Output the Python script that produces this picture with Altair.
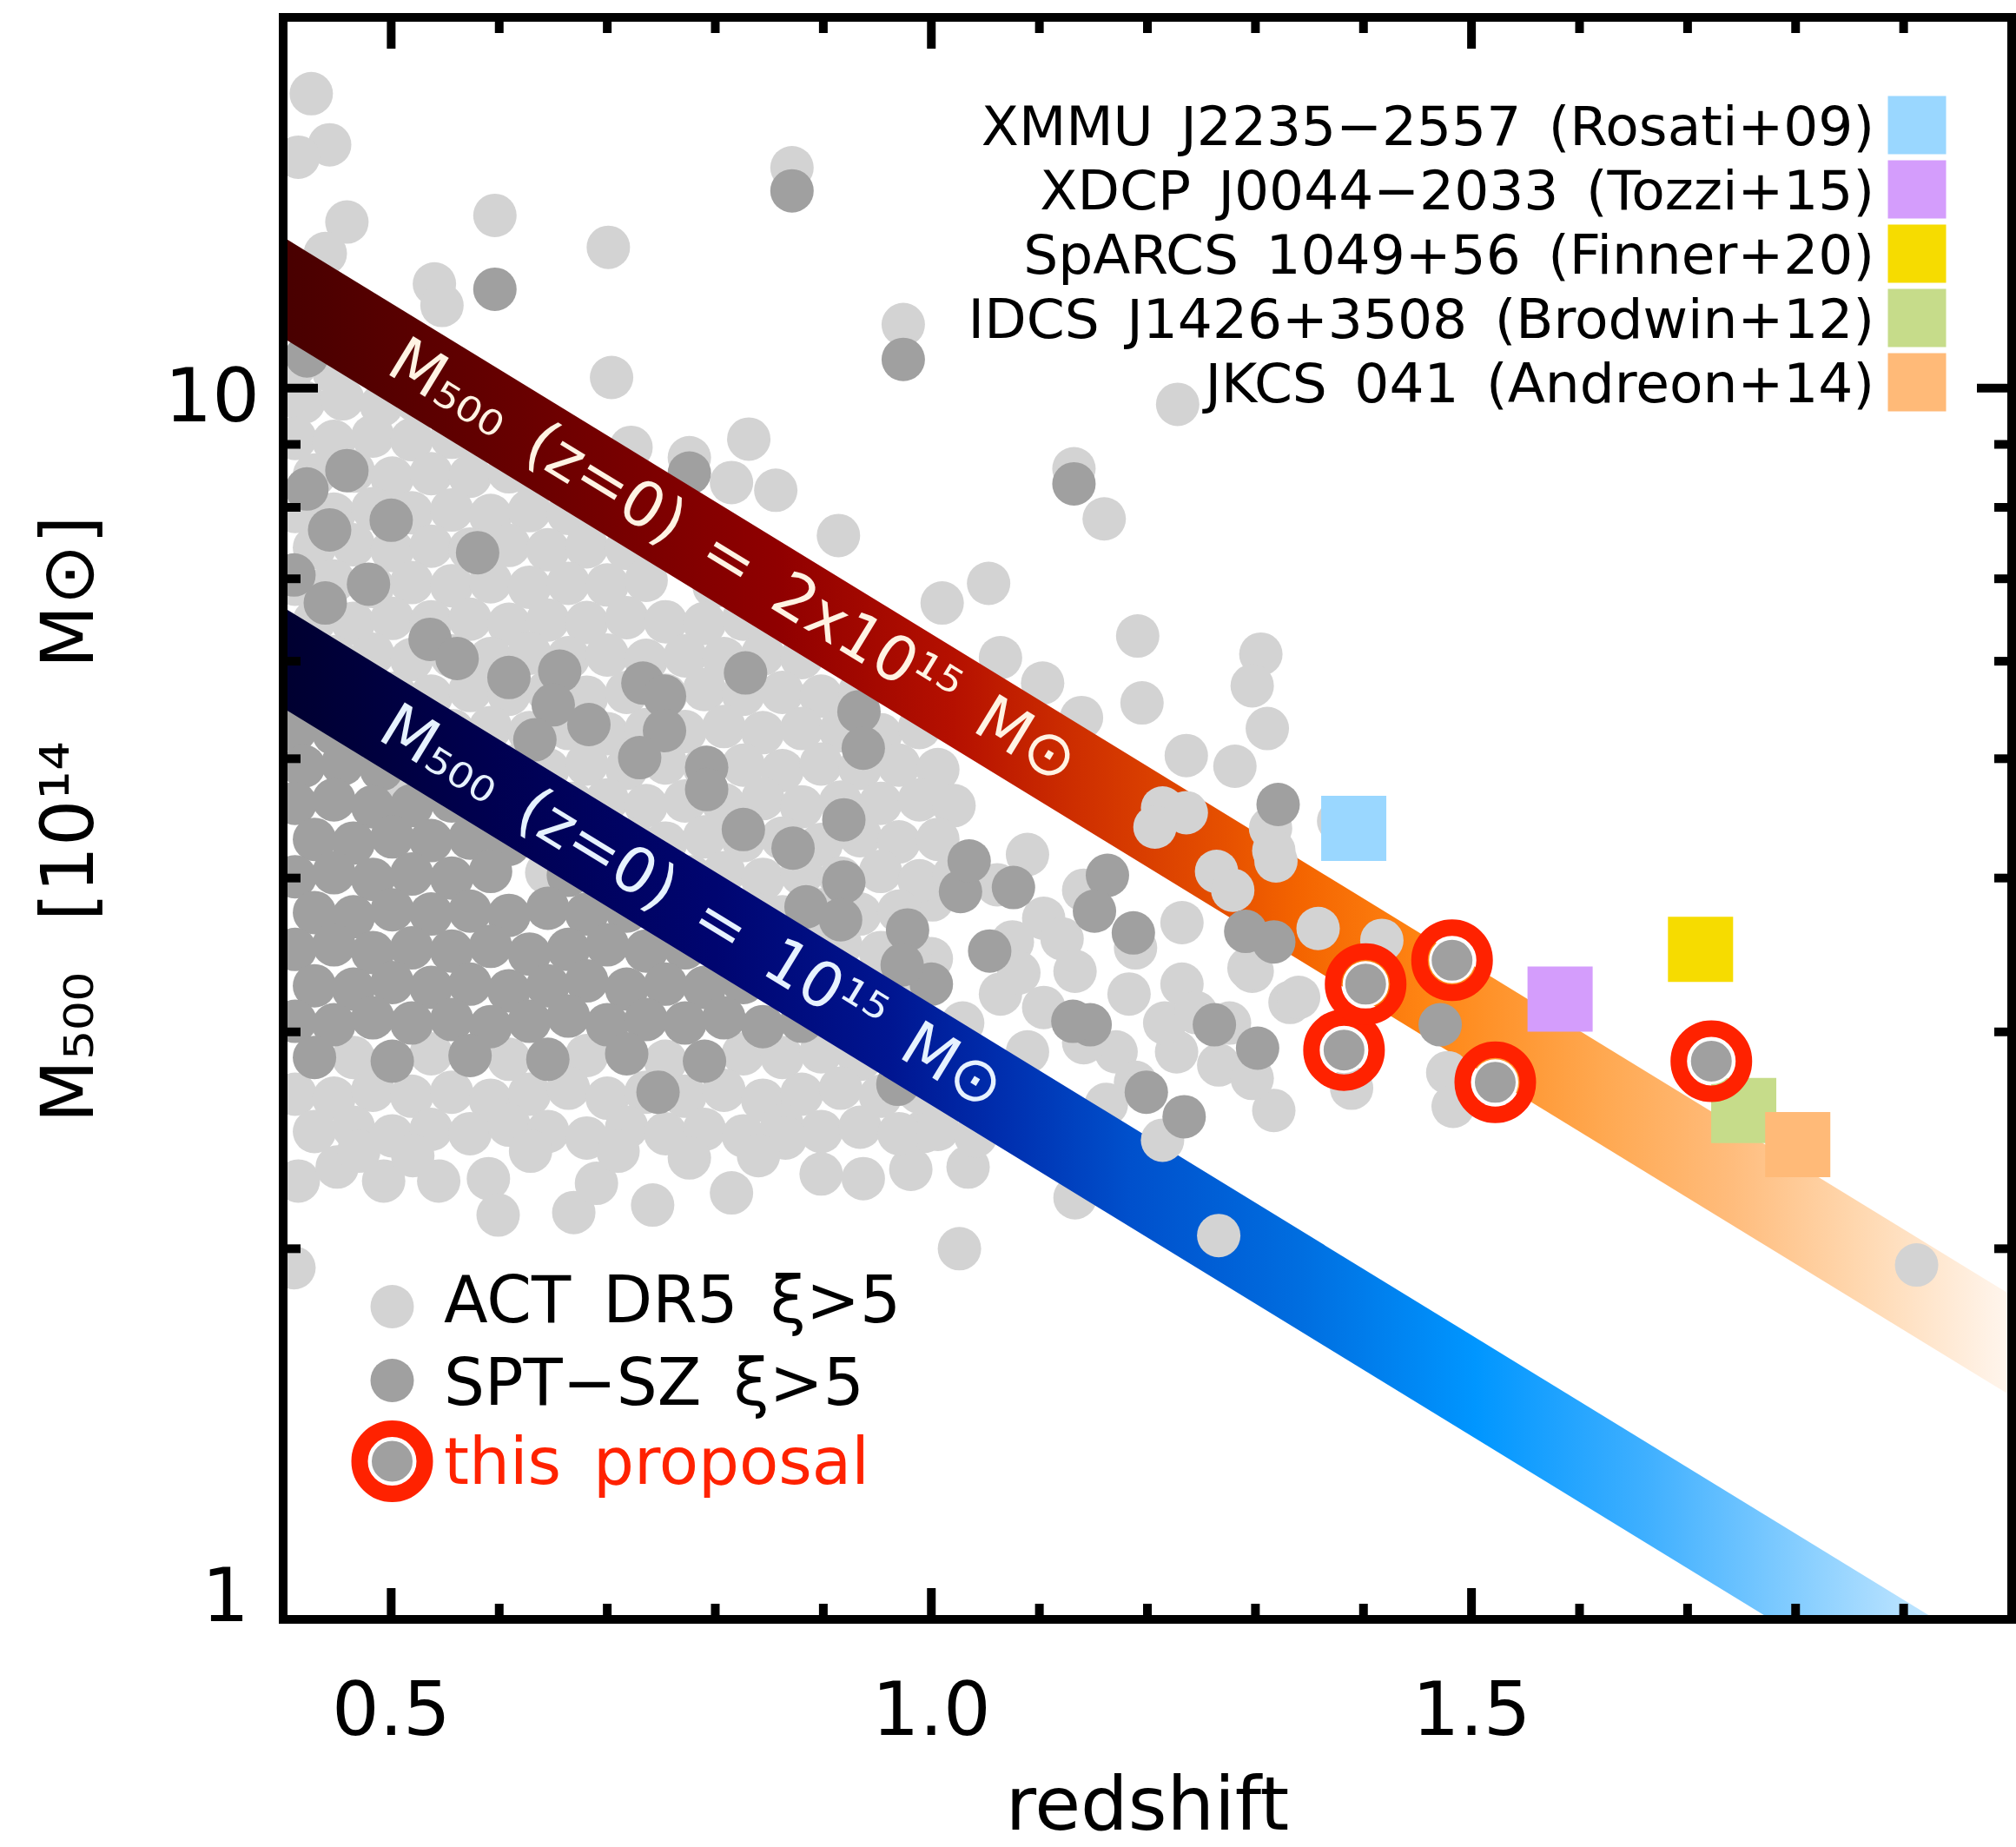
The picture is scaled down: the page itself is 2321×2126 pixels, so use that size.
import altair as alt
import pandas as pd

FONT = "DejaVu Sans"
LIGHT = "#d3d3d3"
DARK = "#a0a0a0"
RED = "#ff2200"

# ---------------- ACT DR5 (xi > 5): redshift, M500 [1e14 Msun] ----------------
act_z = [
    # high-mass tail
    0.426, 0.443, 0.414, 0.459, 0.439, 0.596, 0.701, 0.540, 0.547, 0.871,
    0.704, 0.831, 0.722, 0.776, 0.815, 0.856, 0.914, 0.974, 1.228, 1.132,
    1.160, 1.053, 1.010, 1.191, 1.305, 1.297, 1.195, 1.311, 1.236, 1.281,
    1.064, 1.103, 1.139,
    # high-redshift systems
    1.214, 1.236, 1.207, 1.314, 1.377, 1.264, 1.279, 1.319, 1.358, 1.417,
    1.317, 1.332, 1.297, 1.478, 1.483, 1.317, 1.389, 1.266, 1.912, 1.214,
    1.232, 1.294, 1.340, 1.232, 1.183, 1.266, 1.227, 1.189, 1.216, 1.245,
    1.276, 1.297, 1.189,
    # z ~ 1.0 - 1.2
    1.133, 1.026, 1.171, 1.162, 0.993, 1.034, 0.981, 1.005, 1.104, 1.141,
    1.075, 1.104, 1.064, 1.001, 1.061, 1.121, 1.081, 1.133, 1.029, 1.089,
    1.141, 1.000, 1.089,
    # bulk of the sample
    0.411, 0.447,
    0.419, 0.455, 0.491, 0.523,
    0.411, 0.447, 0.483, 0.519, 0.556, 0.580,
    0.429, 0.465, 0.501, 0.537, 0.573, 0.609, 0.633,
    0.411, 0.447, 0.483, 0.519, 0.556, 0.592, 0.628, 0.664, 0.689,
    0.429, 0.465, 0.501, 0.537, 0.573, 0.609, 0.645, 0.681, 0.718, 0.744,
    0.411, 0.447, 0.483, 0.519, 0.556, 0.592, 0.628, 0.664, 0.700, 0.736, 0.799,
    0.429, 0.465, 0.501, 0.537, 0.573, 0.609, 0.645, 0.681, 0.718, 0.754, 0.790, 0.826, 0.854,
    0.447, 0.483, 0.519, 0.556, 0.592, 0.628, 0.664, 0.700, 0.736, 0.772, 0.808, 0.844, 0.880,
    0.503, 0.537, 0.573, 0.609, 0.645, 0.681, 0.718, 0.754, 0.790, 0.826, 0.862, 0.898, 0.934,
    0.557, 0.592, 0.628, 0.664, 0.700, 0.736, 0.772, 0.808, 0.844, 0.880, 0.916, 0.953, 0.989,
    0.613, 0.645, 0.681, 0.718, 0.754, 0.790, 0.826, 0.862, 0.898, 0.934, 0.970, 1.006,
    0.668, 0.700, 0.736, 0.772, 0.808, 0.844, 0.880, 0.916, 0.953, 0.989, 1.021,
    0.723, 0.754, 0.790, 0.826, 0.862, 0.898, 0.934, 0.970, 1.006,
    0.778, 0.808, 0.844, 0.880, 0.916, 0.953, 0.989, 1.021,
    0.833, 0.862, 0.898, 0.934, 0.970,
    0.888, 0.916, 0.953, 0.981,
    0.944, 0.973,
    0.507, 0.644,
    # low-mass end
    0.465, 0.537, 0.609, 0.681, 0.754, 0.826, 0.862, 0.898, 0.934,
    0.411, 0.447, 0.483, 0.519, 0.556, 0.592, 0.628, 0.664, 0.700, 0.736, 0.772, 0.808, 0.844, 0.880, 0.916, 0.953, 0.989,
    0.429, 0.465, 0.501, 0.537, 0.573, 0.609, 0.645, 0.681, 0.718, 0.754, 0.790, 0.826, 0.862, 0.898, 0.934, 0.970, 1.006, 1.041,
    0.414, 0.450, 0.493, 0.544, 0.590, 0.599, 0.669, 0.690, 0.742, 0.776,
    0.815, 0.865, 0.937, 0.410, 0.898, 0.629, 0.710, 0.840, 0.520, 0.470,
]
act_m = [
    17.34, 15.76, 15.40, 13.64, 12.86, 13.81, 13.01, 12.15, 11.67, 15.10,
    10.20, 9.09, 8.95, 8.78, 8.38, 8.26, 7.59, 11.26, 9.70, 8.60,
    7.83, 6.94, 6.69, 6.29, 6.08, 5.73, 5.55, 5.29, 5.03, 4.93,
    6.04, 5.76, 5.40,
    4.56, 4.52, 4.40, 4.39, 4.45, 4.05, 3.91, 4.13, 3.64, 3.56,
    4.21, 3.17, 3.36, 2.78, 2.61, 2.59, 2.70, 2.05, 1.94, 2.45,
    3.68, 3.38, 3.20, 3.28, 3.22, 2.82, 2.89, 3.51, 3.05, 3.11,
    3.05, 2.75, 2.73,
    2.20, 2.00, 2.89, 2.62, 2.49, 2.33, 2.32, 2.62, 3.71, 3.91,
    3.55, 3.14, 3.22, 3.84, 3.95, 3.57, 3.35, 3.36, 3.05, 2.89,
    2.94, 3.44, 4.18,
    10.43, 10.30,
    9.74, 9.80, 9.68, 9.76,
    9.10, 9.05, 9.14, 9.08, 9.12, 9.02,
    8.50, 8.56, 8.45, 8.52, 8.48, 8.55, 8.44,
    7.94, 7.90, 7.98, 7.92, 7.96, 7.88, 7.95, 7.91, 7.97,
    7.42, 7.46, 7.38, 7.44, 7.40, 7.45, 7.39, 7.43, 7.41, 7.47,
    6.93, 6.97, 6.90, 6.95, 6.91, 6.96, 6.89, 6.94, 6.92, 6.98, 6.90,
    6.47, 6.44, 6.50, 6.46, 6.49, 6.43, 6.48, 6.45, 6.51, 6.46, 6.44, 6.49, 6.47,
    6.05, 6.08, 6.02, 6.06, 6.03, 6.09, 6.04, 6.07, 6.01, 6.06, 6.03, 6.08, 6.04,
    5.65, 5.62, 5.68, 5.64, 5.67, 5.61, 5.66, 5.63, 5.69, 5.64, 5.66, 5.62, 5.67,
    5.27, 5.30, 5.25, 5.29, 5.24, 5.28, 5.26, 5.31, 5.25, 5.29, 5.27, 5.23, 5.30,
    4.93, 4.90, 4.95, 4.91, 4.96, 4.92, 4.94, 4.89, 4.95, 4.91, 4.94, 4.90,
    4.60, 4.63, 4.58, 4.62, 4.59, 4.64, 4.57, 4.61, 4.60, 4.63, 4.58,
    4.30, 4.27, 4.32, 4.29, 4.31, 4.26, 4.33, 4.28, 4.30,
    4.01, 4.04, 3.99, 4.03, 4.00, 4.05, 3.98, 4.02,
    3.75, 3.72, 3.77, 3.74, 3.76,
    3.50, 3.53, 3.48, 3.51,
    3.27, 3.25,
    4.81, 4.04,
    2.86, 2.88, 2.85, 2.87, 2.84, 2.88, 2.86, 2.89, 2.85,
    2.67, 2.65, 2.69, 2.66, 2.68, 2.64, 2.67, 2.70, 2.65, 2.68, 2.66, 2.69, 2.64, 2.67, 2.70, 2.66, 2.68,
    2.49, 2.51, 2.47, 2.50, 2.48, 2.52, 2.49, 2.46, 2.51, 2.48, 2.50, 2.47, 2.52, 2.49, 2.51, 2.48, 2.50, 2.47,
    2.27, 2.33, 2.27, 2.27, 2.28, 2.13, 2.14, 2.26, 2.17, 2.37,
    2.22, 2.46, 2.28, 1.93, 2.30, 2.40, 2.40, 2.38, 2.38, 2.40,
]

# ---------------- SPT-SZ (xi > 5) ----------------
spt_z = [
    0.596, 0.871, 0.974, 1.132, 0.776, 0.422,
    0.479, 0.439, 0.410, 0.536, 0.561, 0.609, 0.656, 0.650, 0.683, 0.633,
    0.733, 0.753, 0.753, 0.730, 0.828, 0.792, 0.792, 0.933, 0.937, 0.919,
    0.826, 0.872, 0.884, 0.919, 0.916, 0.580, 0.422, 0.459, 0.443, 0.500,
    0.978, 1.000, 1.027, 1.076, 1.035, 1.163, 1.151, 1.187, 1.054, 1.147,
    1.131, 1.199, 1.234, 1.262, 1.302, 1.291, 1.317, 1.321, 1.471, 0.969,
    0.973,
    0.411, 0.447,
    0.419, 0.455, 0.491,
    0.411, 0.447, 0.483, 0.519, 0.556,
    0.429, 0.465, 0.501, 0.537, 0.573, 0.609,
    0.411, 0.447, 0.483, 0.519, 0.556, 0.592, 0.664,
    0.429, 0.465, 0.501, 0.537, 0.573, 0.609, 0.645, 0.681, 0.718,
    0.411, 0.447, 0.483, 0.519, 0.556, 0.592, 0.628, 0.664, 0.700, 0.736, 0.772,
    0.429, 0.465, 0.501, 0.537, 0.573, 0.609, 0.645, 0.681, 0.718, 0.754, 0.790, 0.826,
    0.411, 0.447, 0.483, 0.519, 0.556, 0.592, 0.628, 0.664, 0.700, 0.736, 0.772, 0.808, 0.844, 0.880,
    0.429, 0.501, 0.573, 0.645, 0.718, 0.790,
    0.747,
]
spt_m = [
    12.03, 14.46, 10.55, 8.36, 8.53, 10.62,
    6.93, 6.69, 7.05, 6.25, 6.03, 5.82, 5.89, 5.53, 5.33, 5.18,
    5.76, 5.62, 5.27, 5.01, 5.87, 4.92, 4.72, 5.46, 5.10, 4.46,
    4.38, 4.23, 3.79, 3.97, 3.70, 7.35, 8.28, 8.57, 7.67, 7.81,
    3.63, 3.28, 3.90, 3.93, 4.13, 4.02, 3.76, 3.61, 3.49, 3.04,
    3.06, 2.68, 2.56, 3.04, 2.91, 3.62, 3.55, 4.59, 3.04, 2.72,
    3.40,
    5.27, 5.24,
    4.93, 4.95, 4.90,
    4.60, 4.63, 4.57, 4.58, 4.62,
    4.30, 4.27, 4.32, 4.29, 4.31, 4.26,
    4.01, 4.04, 3.99, 4.03, 4.00, 4.05, 4.02,
    3.75, 3.72, 3.77, 3.74, 3.76, 3.73, 3.78, 3.74, 3.76,
    3.50, 3.53, 3.48, 3.51, 3.49, 3.52, 3.47, 3.50, 3.53, 3.49, 3.51,
    3.27, 3.25, 3.29, 3.26, 3.28, 3.24, 3.27, 3.30, 3.25, 3.28, 3.26, 3.29,
    3.06, 3.04, 3.08, 3.05, 3.07, 3.03, 3.06, 3.09, 3.04, 3.07, 3.05, 3.08, 3.03, 3.06,
    2.86, 2.84, 2.87, 2.85, 2.88, 2.84,
    2.68,
]

# ---------------- proposed targets ----------------
prop_z = [1.382, 1.402, 1.482, 1.522, 1.722]
prop_m = [2.90, 3.28, 3.43, 2.73, 2.84]

# ---------------- well-studied high-z clusters ----------------
ref_z = [1.391, 1.582, 1.712, 1.752, 1.802]
ref_m = [4.39, 3.19, 3.50, 2.59, 2.43]
ref_colors = ["#9ad7ff", "#d49dfc", "#f6dc00", "#c6dc8a", "#ffba78"]
ref_labels = [
    "XMMU\u2002J2235\u22122557\u2002(Rosati+09)",
    "XDCP\u2002J0044\u22122033\u2002(Tozzi+15)",
    "SpARCS\u20021049+56\u2002(Finner+20)",
    "IDCS\u2002J1426+3508\u2002(Brodwin+12)",
    "JKCS\u2002041\u2002(Andreon+14)",
]

# ---------------- mass-growth tracks (end points) ----------------
track_z = [0.4, 2.0]
track_hi_m = [12.07, 1.668]   # M500(z=0) = 2e15 Msun
track_lo_m = [6.04, 0.834]    # M500(z=0) = 1e15 Msun
track_hi_label = "M\u2085\u2080\u2080\u2002(z=0)\u2002=\u20022x10\u00b9\u2075\u2002M\u2299"
track_lo_label = "M\u2085\u2080\u2080\u2002(z=0)\u2002=\u200210\u00b9\u2075\u2002M\u2299"

# ---------------- axes ----------------
x_major = [0.5, 1.0, 1.5]
x_major_labels = ["0.5", "1.0", "1.5"]
x_minor = [0.6, 0.7, 0.8, 0.9, 1.1, 1.2, 1.3, 1.4, 1.6, 1.7, 1.8, 1.9]
y_major = [1, 10]
y_minor = [2, 3, 4, 5, 6, 7, 8, 9]

W, H = 1990, 1844
Z_SPLIT = 1.18

xs = alt.Scale(domain=[0.4, 2.0], nice=False, zero=False)
ys = alt.Scale(type="log", domain=[1, 20], nice=False)
X = alt.X("z:Q", scale=xs, axis=None)
Y = alt.Y("m:Q", scale=ys, axis=None)

act_df = pd.DataFrame({"z": act_z, "m": act_m})
spt_df = pd.DataFrame({"z": spt_z, "m": spt_m})
prop_df = pd.DataFrame({"z": prop_z, "m": prop_m})
ref_df = pd.DataFrame({"z": ref_z, "m": ref_m, "c": ref_colors})
one = pd.DataFrame({"k": [0]})

# Vega symbol size is the area of the bounding square: diameter = sqrt(size)
DOT = 2500      # 50 px discs
RING = 5625     # 75 px ring (centre line)


def dots(df, color, cond):
    return (alt.Chart(df).transform_filter(cond)
            .mark_circle(size=DOT, color=color, opacity=1, clip=True)
            .encode(x=X, y=Y))


def track(m_vals, stops):
    grad = alt.LinearGradient(
        gradient="linear",
        stops=[alt.GradientStop(offset=o, color=c) for o, c in stops],
        x1=0, x2=1, y1=0, y2=0)
    return (alt.Chart(pd.DataFrame({"z": track_z, "m": m_vals}))
            .mark_line(strokeWidth=99, strokeCap="square", clip=True, color=grad)
            .encode(x=X, y=Y))


hi_stops = [(0.0, "#480000"), (0.1375, "#680000"), (0.2875, "#900000"),
            (0.3875, "#b51000"), (0.4625, "#cf3000"), (0.544, "#e65000"),
            (0.5875, "#f46400"), (0.6625, "#ff8614"), (0.7625, "#ffa850"),
            (0.8375, "#ffbc7c"), (0.9125, "#ffd8b0"), (0.9875, "#fff2e6"),
            (1.0, "#fff6ee")]
lo_stops = [(0.0, "#000030"), (0.12, "#000050"), (0.25, "#000570"),
            (0.35, "#001590"), (0.42, "#0030b0"), (0.49, "#0050cc"),
            (0.59, "#006ee0"), (0.69, "#0096ff"), (0.79, "#40b0ff"),
            (0.89, "#90d2ff"), (0.94, "#b8e2ff"), (1.0, "#d8f0ff")]


def track_text(z, m, label, color):
    return (alt.Chart(pd.DataFrame({"z": [z], "m": [m], "t": [label]}))
            .mark_text(font=FONT, fontSize=72, angle=31.4, align="center",
                       baseline="middle", color=color)
            .encode(x=X, y=Y, text="t:N"))


layers = [
    dots(act_df, LIGHT, "datum.z < %g" % Z_SPLIT),
    dots(spt_df, DARK, "datum.z < %g" % Z_SPLIT),
    track(track_hi_m, hi_stops),
    track(track_lo_m, lo_stops),
    track_text(0.816, 7.22, track_hi_label, "#fff3e3"),
    track_text(0.778, 3.78, track_lo_label, "#e6f2ff"),
    dots(act_df, LIGHT, "datum.z >= %g" % Z_SPLIT),
    dots(spt_df, DARK, "datum.z >= %g" % Z_SPLIT),
    alt.Chart(ref_df).mark_square(size=5625, opacity=1, clip=True)
    .encode(x=X, y=Y, color=alt.Color("c:N", scale=None)),
    alt.Chart(prop_df).mark_circle(size=DOT, color=DARK, opacity=1,
                                   stroke="white", strokeWidth=3)
    .encode(x=X, y=Y),
    alt.Chart(prop_df).mark_point(shape="circle", size=RING, filled=False,
                                  color=RED, strokeWidth=19, opacity=1)
    .encode(x=X, y=Y),
]

# ticks on all four sides, pointing inward
def xticks(vals, length):
    d = pd.DataFrame({"z": vals})
    return [alt.Chart(d).mark_rule(color="black", strokeWidth=10)
            .encode(x=X, y=alt.value(H), y2=alt.value(H - length)),
            alt.Chart(d).mark_rule(color="black", strokeWidth=10)
            .encode(x=X, y=alt.value(0), y2=alt.value(length))]


def yticks(vals, length):
    d = pd.DataFrame({"m": vals})
    return [alt.Chart(d).mark_rule(color="black", strokeWidth=10)
            .encode(y=Y, x=alt.value(0), x2=alt.value(length)),
            alt.Chart(d).mark_rule(color="black", strokeWidth=10)
            .encode(y=Y, x=alt.value(W), x2=alt.value(W - length))]


layers += xticks(x_major, 36) + xticks(x_minor, 18)
layers += yticks(y_major, 40) + yticks(y_minor, 20)

# frame
frame = alt.Chart(one).mark_rule(color="black", strokeWidth=10, strokeCap="square")
layers += [
    frame.encode(x=alt.value(0), x2=alt.value(W), y=alt.value(0)),
    frame.encode(x=alt.value(0), x2=alt.value(W), y=alt.value(H)),
    frame.encode(x=alt.value(0), y=alt.value(0), y2=alt.value(H)),
    frame.encode(x=alt.value(W), y=alt.value(0), y2=alt.value(H)),
]

# tick labels and titles
layers += [
    alt.Chart(pd.DataFrame({"z": x_major, "t": x_major_labels}))
    .mark_text(font=FONT, fontSize=86, align="center", baseline="alphabetic", color="black")
    .encode(x=X, y=alt.value(H + 133), text="t:N"),
    alt.Chart(pd.DataFrame({"m": [10], "t": ["10"]}))
    .mark_text(font=FONT, fontSize=86, align="right", baseline="middle", dy=12, color="black")
    .encode(y=Y, x=alt.value(-27), text="t:N"),
    alt.Chart(pd.DataFrame({"m": [1], "t": ["1"]}))
    .mark_text(font=FONT, fontSize=86, align="right", baseline="alphabetic", dy=2, color="black")
    .encode(y=Y, x=alt.value(-39), text="t:N"),
    alt.Chart(pd.DataFrame({"t": ["redshift"]}))
    .mark_text(font=FONT, fontSize=86, align="center", baseline="alphabetic", color="black")
    .encode(x=alt.value(W / 2), y=alt.value(2086), text="t:N"),
    alt.Chart(pd.DataFrame({"t": ["M\u2085\u2080\u2080\u2002\u2009[10\u00b9\u2074\u2003M\u2299]"]}))
    .mark_text(font=FONT, fontSize=84, align="center", baseline="alphabetic", angle=270, color="black")
    .encode(x=alt.value(-219), y=alt.value(923), text="t:N"),
]

# key for the reference clusters (upper right)
for i, (lab, col) in enumerate(zip(ref_labels, ref_colors)):
    yy = 124 + 74 * i
    layers.append(alt.Chart(pd.DataFrame({"t": [lab]}))
                  .mark_text(font=FONT, fontSize=63, align="right", baseline="middle",
                             dy=4, color="black")
                  .encode(x=alt.value(1832), y=alt.value(yy), text="t:N"))
    layers.append(alt.Chart(one).mark_square(size=4489, color=col, opacity=1)
                  .encode(x=alt.value(1881), y=alt.value(yy)))

# key for the survey samples (lower left)
KX, TX = 125.5, 185
layers += [
    alt.Chart(one).mark_circle(size=DOT, color=LIGHT, opacity=1)
    .encode(x=alt.value(KX), y=alt.value(1484)),
    alt.Chart(one).mark_circle(size=DOT, color=DARK, opacity=1)
    .encode(x=alt.value(KX), y=alt.value(1569)),
    alt.Chart(one).mark_circle(size=DOT, color=DARK, opacity=1, stroke="white", strokeWidth=3)
    .encode(x=alt.value(KX), y=alt.value(1662)),
    alt.Chart(one).mark_point(shape="circle", size=RING, filled=False, color=RED,
                              strokeWidth=19, opacity=1)
    .encode(x=alt.value(KX), y=alt.value(1662)),
    alt.Chart(pd.DataFrame({"t": ["ACT\u2002DR5\u2002\u03be>5"]}))
    .mark_text(font=FONT, fontSize=74, align="left", baseline="alphabetic", color="black")
    .encode(x=alt.value(TX), y=alt.value(1502), text="t:N"),
    alt.Chart(pd.DataFrame({"t": ["SPT\u2212SZ\u2002\u03be>5"]}))
    .mark_text(font=FONT, fontSize=74, align="left", baseline="alphabetic", color="black")
    .encode(x=alt.value(TX), y=alt.value(1597), text="t:N"),
    alt.Chart(pd.DataFrame({"t": ["this\u2002proposal"]}))
    .mark_text(font=FONT, fontSize=74, align="left", baseline="alphabetic", color=RED)
    .encode(x=alt.value(TX), y=alt.value(1688), text="t:N"),
]

chart = (alt.layer(*layers)
         .properties(width=W, height=H,
                     autosize=alt.AutoSizeParams(type="none"),
                     padding={"left": 326, "top": 20, "right": 5, "bottom": 262})
         .configure_view(strokeWidth=0))

chart.save("out.html", embed_options={"renderer": "svg", "actions": False})
